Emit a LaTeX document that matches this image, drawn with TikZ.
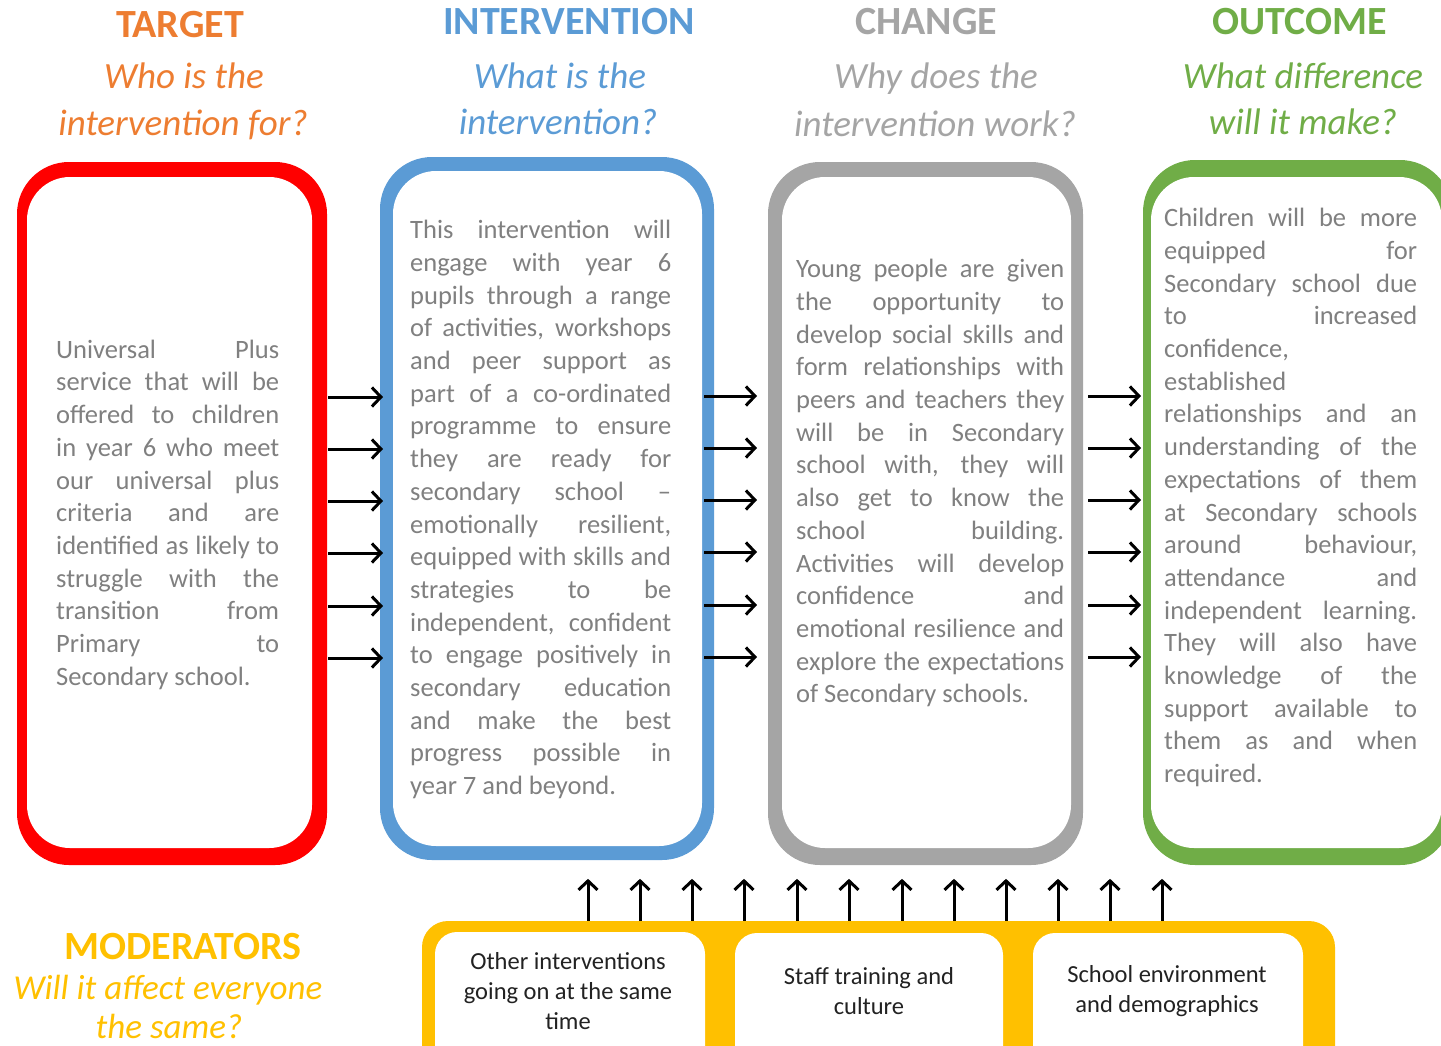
\documentclass[tikz,border=0pt]{standalone}
\usepackage{fontspec}
\setmainfont{Carlito}
\usetikzlibrary{arrows.meta}
\definecolor{cred}{HTML}{FF0000}
\definecolor{cblue}{HTML}{5B9BD5}
\definecolor{cgray}{HTML}{A5A5A5}
\definecolor{cgreen}{HTML}{70AD47}
\definecolor{corange}{HTML}{ED7D31}
\definecolor{cyellow}{HTML}{FFC000}
\definecolor{ctext}{HTML}{808080}
\definecolor{cdark}{HTML}{222222}
\newlength\jw
\newcommand\jl[1]{\hbox to\jw{\strut#1}}
\newcommand\fl[1]{\hbox to\jw{\strut#1\hfil}}
\newcommand\bodyf{\fontsize{26.5}{32.7}\selectfont}
\begin{document}
\begin{tikzpicture}[x=1pt,y=-1pt,
  boxo/.style={rounded corners=52pt, inner sep=0pt, outer sep=0pt},
  boxi/.style={rounded corners=43pt, inner sep=0pt, outer sep=0pt, fill=white},
  head/.style={font=\fontsize{40}{48}\selectfont\bfseries, anchor=base, inner sep=0pt},
  sub/.style={font=\fontsize{37}{45}\selectfont\itshape, anchor=base, inner sep=0pt},
  body/.style={anchor=north west, inner sep=0pt, text=ctext, font=\bodyf},
  modtext/.style={font=\fontsize{24.5}{30}\selectfont, align=center, text=cdark, inner sep=0pt},
  arr/.style={line width=3pt, -{Straight Barb[length=9pt,width=19pt]}}]
\useasboundingbox (0,0) rectangle (1441,1045);
\clip (0,0) rectangle (1441,1045);

% headers
\node[head, text=corange] (h1) at (180,37) {TARGET};
\node[sub, text=corange] (s1a) at (184,88) {Who is the};
\node[sub, text=corange] (s1b) at (183,135) {intervention for?};
\node[head, text=cblue] (h2) at (569,34) {INTERVENTION};
\node[sub, text=cblue] (s2a) at (560,88) {What is the};
\node[sub, text=cblue] (s2b) at (558,134) {intervention?};
\node[head, text=cgray] (h3) at (926,34) {CHANGE};
\node[sub, text=cgray] (s3a) at (936,88) {Why does the};
\node[sub, text=cgray] (s3b) at (935,136) {intervention work?};
\node[head, text=cgreen] (h4) at (1300,34) {OUTCOME};
\node[sub, text=cgreen] (s4a) at (1303,88) {What difference};
\node[sub, text=cgreen] (s4b) at (1303,134) {will it make?};

% boxes
\node[boxo, fill=cred, minimum width=310pt, minimum height=703pt] (redo) at (172,513.5) {};
\node[boxi, minimum width=285pt, minimum height=671pt] (redi) at (169.5,512.5) {};
\node[boxo, fill=cblue, minimum width=334pt, minimum height=703pt] (blueo) at (547,508.5) {};
\node[boxi, minimum width=309pt, minimum height=675pt] (bluei) at (547.5,508.5) {};
\node[boxo, fill=cgray, minimum width=315pt, minimum height=703pt] (grayo) at (925.5,513.5) {};
\node[boxi, minimum width=289pt, minimum height=671pt] (grayi) at (926.5,512.5) {};
\node[boxo, fill=cgreen, minimum width=309pt, minimum height=705pt] (greeno) at (1297.5,512.5) {};
\node[boxi, minimum width=291pt, minimum height=671pt] (greeni) at (1296.5,512.5) {};

% body texts
\node[body] (redt) at (56,335.1) {\setlength\jw{223pt}\vbox{%
\jl{Universal Plus}
\jl{service that will be}
\jl{offered to children}
\jl{in year 6 who meet}
\jl{our universal plus}
\jl{criteria and are}
\jl{identified as likely to}
\jl{struggle with the}
\jl{transition from}
\jl{Primary to}
\fl{Secondary school.}}};

\node[body] (bluet) at (410,215.6) {\setlength\jw{261pt}\vbox{%
\jl{This intervention will}
\jl{engage with year 6}
\jl{pupils through a range}
\jl{of activities, workshops}
\jl{and peer support as}
\jl{part of a co-ordinated}
\jl{programme to ensure}
\jl{they are ready for}
\jl{secondary school –}
\jl{emotionally resilient,}
\jl{equipped with skills and}
\jl{strategies to be}
\jl{independent, confident}
\jl{to engage positively in}
\jl{secondary education}
\jl{and make the best}
\jl{progress possible in}
\fl{year 7 and beyond.}}};

\begin{scope}
\clip (790,240) rectangle (1065,720);
\node[body] (grayt) at (796,254.6) {\setlength\jw{268pt}\vbox{%
\jl{Young people are given}
\jl{the opportunity to}
\jl{develop social skills and}
\jl{form relationships with}
\jl{peers and teachers they}
\jl{will be in Secondary}
\jl{school with, they will}
\jl{also get to know the}
\jl{school building.}
\jl{Activities will develop}
\jl{confidence and}
\jl{emotional resilience and}
\jl{explore the expectations}
\fl{of Secondary schools.}}};
\end{scope}

\node[body] (greent) at (1164,203.6) {\setlength\jw{253pt}\vbox{%
\jl{Children will be more}
\jl{equipped for}
\jl{Secondary school due}
\jl{to increased}
\fl{confidence,}
\fl{established}
\jl{relationships and an}
\jl{understanding of the}
\jl{expectations of them}
\jl{at Secondary schools}
\jl{around behaviour,}
\jl{attendance and}
\jl{independent learning.}
\jl{They will also have}
\jl{knowledge of the}
\jl{support available to}
\jl{them as and when}
\fl{required.}}};

% right arrows
\foreach \y in {397,449,501,553,606,658}
  \draw[arr, shorten <=1pt, shorten >=-3pt] (redo.east |- 0,\y) -- (blueo.west |- 0,\y);
\foreach \y in {396,448,500,552,605,657}
  \draw[arr, shorten <=-10pt, shorten >=11pt] (blueo.east |- 0,\y) -- (grayo.west |- 0,\y);
\foreach \y in {396,448,500,552,605,657}
  \draw[arr, shorten <=5pt, shorten >=2pt] (grayo.east |- 0,\y) -- (greeno.west |- 0,\y);

% moderators
\node[head, text=cyellow] (mh) at (183,959) {MODERATORS};
\node[font=\fontsize{35}{42}\selectfont\itshape, anchor=base, inner sep=0pt, text=cyellow] (ms1) at (168,999) {Will it affect everyone};
\node[font=\fontsize{35}{42}\selectfont\itshape, anchor=base, inner sep=0pt, text=cyellow] (ms2) at (169,1038) {the same?};

\node[rounded corners=26pt, inner sep=0pt, fill=cyellow, minimum width=913pt, minimum height=164pt] (ymod) at (878.5,1003) {};
\node[rounded corners=22pt, inner sep=0pt, fill=white, minimum width=270pt, minimum height=138pt] (m1) at (570,1001) {};
\node[rounded corners=22pt, inner sep=0pt, fill=white, minimum width=268pt, minimum height=137pt] (m2) at (869,1001.5) {};
\node[rounded corners=22pt, inner sep=0pt, fill=white, minimum width=270pt, minimum height=137pt] (m3) at (1168,1001.5) {};
\node[modtext] (m1t) at (568,991) {Other interventions\\going on at the same\\time};
\node[modtext] (m2t) at (869,991) {Staff training and\\culture};
\node[modtext] (m3t) at (1167,991) {School environment\\and demographics};

% up arrows
\foreach \x in {588,640,692,744,797,849,902,954,1006,1058,1110,1162}
  \draw[arr] (ymod.north -| \x,0) -- ++(0,-42);
\end{tikzpicture}
\end{document}
